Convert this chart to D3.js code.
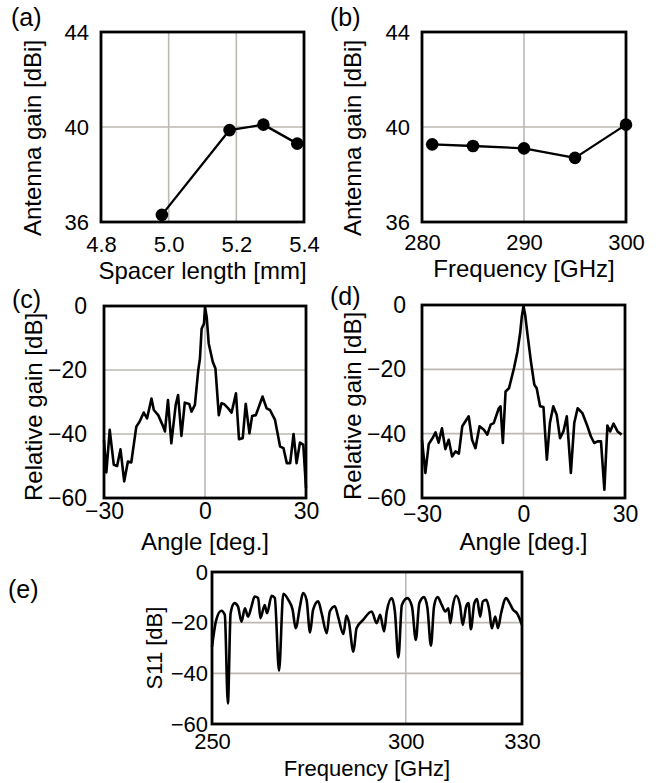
<!DOCTYPE html>
<html>
<head>
<meta charset="utf-8">
<script src="https://cdn.jsdelivr.net/npm/d3@7/dist/d3.min.js"></script>
<style>
    body { margin: 0; background: #fff; }
    text { font-family: "Liberation Sans", Arial, sans-serif; fill: #000; }
</style>
</head>
<body>
<div id="figure"></div>
<script>
// (a) gain vs spacer length
var spacerLength = [4.98, 5.18, 5.28, 5.38];
var spacerGain = [36.3, 39.87, 40.1, 39.3];

// (b) gain vs frequency
var freqB = [281, 285, 290, 295, 300];
var gainB = [39.27, 39.2, 39.1, 38.7, 40.1];

// (c) radiation pattern
var angleC = [-30, -29.3, -28.3, -27.1, -26.1, -25.1, -24, -22.9, -21.9, -20.4, -19.4, -18.2, -17.2, -15.9, -15.2,
    -13.9, -12.4, -11.9, -11, -10, -8.7, -8, -7, -6, -4.7, -4, -3, -2, -1.5, -1, -0.3, 0, 0.5, 1.1, 2.3, 3.1,
    4.1, 4.9, 5.6, 6.9, 7.9, 9.2, 10.1, 11.2, 12.1, 13.2, 14, 15.1, 17.1, 18.3, 19.3, 20.8, 22.3, 23.3, 24.3,
    25.3, 26.3, 27.2, 28.2, 29.2, 30];
var gainC = [-41.8, -52, -38.7, -49.6, -50, -44.8, -54.8, -48.6, -48.9, -37.7, -36.1, -33.3, -35.1, -28.9, -32.5,
    -34.1, -37.7, -39.2, -29.4, -42.9, -30.9, -27.8, -40.6, -30.2, -30.6, -33, -30.9, -20, -16.4, -7.1, -5.5, -0.3, -3.4, -11.7, -17.4, -19.5,
    -34.1, -30.4, -30.6, -32, -33.3, -27.3, -41.6, -41.3, -30.6, -39.8, -34.4, -34.1, -28.3, -32, -32.5, -35.6, -43.9, -44.4, -49.1,
    -49.1, -40, -49.1, -42.7, -43.4, -56.9];

// (d) radiation pattern
var angleD = [-30, -29, -28, -27, -26, -25.1, -24.1, -23.1, -22.1, -21.1, -20.1, -19.1, -18.1, -17.2, -16.2,
    -15.2, -14.2, -13, -11.7, -10.7, -9.7, -8.8, -7.3, -6.8, -6.1, -5.3, -4.3, -2.8, -1.8, -1, -0.5, 0, 0.5,
    1.2, 2.2, 3.2, 3.9, 4.9, 5.9, 6.9, 7.8, 8.8, 9.8, 10.8, 11.8, 12.8, 14, 15, 16, 17.4, 18.9, 19.9, 20.9,
    21.9, 22.9, 23.9, 24.8, 25.6, 26.6, 27.8, 29];
var gainD = [-41.9, -52.2, -43.2, -41.6, -39.6, -42.8, -38.3, -44.8, -41.9, -47.1, -45.5, -46.2, -37.7, -36.2, -34.6,
    -41.9, -44.5, -37.7, -38.8, -40.3, -37.2, -36.7, -32.1, -31.5, -42.9, -26.9, -25.9, -19.6, -14.5, -8.8, -3.6, -0.3, -3.1,
    -9.3, -17.6, -24.8, -25.9, -31.5, -31.7, -48.1, -36.7, -31.5, -34.1, -41.4, -39.3, -34.6, -52.2, -36.7, -32.1, -33.6, -37.7, -40.8, -42.9,
    -42.4, -42.4, -57.4, -37.5, -39.3, -36.9, -39.3, -40.3];

// (e) S11
var freqE = [250, 251.1, 252.4, 253.3, 254.1, 254.8, 255.8, 256.7, 257.6, 258.5, 259.3, 260.2, 261, 261.9, 262.5,
    263.6, 264.2, 265.4, 266.2, 267.3, 268.4, 269.7, 270.8, 271.6, 272.7, 273.5, 274.4, 275.3, 276.1, 277.4,
    278.3, 279.6, 280.4, 281.7, 282.6, 283.9, 284.7, 285.3, 286.5, 287.3, 289, 291.2, 292.5, 293.4, 294.4,
    295.1, 296.4, 297.2, 298.1, 299, 300.4, 301.6, 302.6, 303.5, 304.7, 305.6, 306.5, 307.3, 308.2, 309.3,
    310.2, 311, 311.5, 312.2, 313, 314, 314.7, 315.6, 316.2, 316.8, 317.7, 318.4, 319.2, 319.9, 320.8, 321.6,
    322.2, 323.1, 323.8, 324.6, 325.9, 326.8, 327.7, 328.7, 330];
var s11E = [-29.5, -18.9, -15.3, -16.9, -51.9, -16.3, -12.3, -13.6, -19.6, -14.3, -17.6, -13.6, -9.7, -10.3, -18.2,
    -13, -16.3, -9.4, -10.3, -39, -8.6, -11, -14.9, -22.2, -13.6, -8.3, -11, -23.9, -14.9, -11.6,
    -16.3, -24.2, -15.6, -13.5, -18, -24.5, -17.2, -19.6, -31.5, -22.2, -18.9, -15.6, -20.2, -16.9, -23.5,
    -15.6, -10.3, -15.6, -33.7, -13, -10.3, -13.6, -26.8, -12.3, -9.9, -14.3, -29.1, -13.6, -9.9, -13,
    -15.6, -14.3, -20.2, -13, -9.4, -13, -20.9, -13.6, -12.3, -22.6, -12.3, -10.7, -17.6, -11.6, -11, -15.6,
    -22.2, -17.6, -22.2, -16.3, -10.3, -12.3, -14.9, -16.3, -20.9];

var gridColor = "#bdb8b2";

var svg = d3.select("#figure").append("svg")
    .attr("width", 668)
    .attr("height", 783)
    .style("display", "block");

svg.append("rect").attr("width", 668).attr("height", 783).attr("fill", "#fff");

// minus sign like the original figure
function fmt(d, f) {
    var s = f ? f(Math.abs(d)) : String(Math.abs(d));
    return d < 0 ? "\u2212" + s : s;
}

// Draws one framed panel with grid, ticks, labels and a data line
function drawPanel(p) {
    var x = d3.scaleLinear().domain(p.xDomain).range([p.left, p.right]);
    var y = d3.scaleLinear().domain(p.yDomain).range([p.bottom, p.top]);
    var g = svg.append("g");

    // grid lines
    g.selectAll(".vgrid").data(p.xGrid).enter().append("line")
        .attr("x1", d => x(d)).attr("x2", d => x(d))
        .attr("y1", p.top).attr("y2", p.bottom)
        .attr("stroke", gridColor).attr("stroke-width", 1.6);
    g.selectAll(".hgrid").data(p.yGrid).enter().append("line")
        .attr("x1", p.left).attr("x2", p.right)
        .attr("y1", d => y(d)).attr("y2", d => y(d))
        .attr("stroke", gridColor).attr("stroke-width", 1.6);

    // data line
    var pts = p.xs.map((d, i) => [d, p.ys[i]]);
    var line = d3.line().x(d => x(d[0])).y(d => y(d[1])).curve(p.curve || d3.curveLinear);
    g.append("path")
        .attr("d", line(pts))
        .attr("fill", "none")
        .attr("stroke", "#000")
        .attr("stroke-width", p.lineWidth || 2.5)
        .attr("stroke-linejoin", "round");

    if (p.markers) {
        g.selectAll(".dot").data(pts).enter().append("circle")
            .attr("cx", d => x(d[0])).attr("cy", d => y(d[1]))
            .attr("r", 6.3).attr("fill", "#000");
    }

    // frame
    g.append("rect")
        .attr("x", p.left).attr("y", p.top)
        .attr("width", p.right - p.left).attr("height", p.bottom - p.top)
        .attr("fill", "none").attr("stroke", "#000").attr("stroke-width", 2.8);

    // axes (tick text only)
    var xAxis = d3.axisBottom(x).tickValues(p.xTicks).tickSize(0).tickPadding(p.xPad)
        .tickFormat(d => fmt(d, p.xFormat));
    var yAxis = d3.axisLeft(y).tickValues(p.yTicks).tickSize(0).tickPadding(p.yPad)
        .tickFormat(d => fmt(d));
    var gx = g.append("g").attr("transform", "translate(0," + p.bottom + ")").call(xAxis);
    var gy = g.append("g").attr("transform", "translate(" + p.left + ",0)").call(yAxis);
    [gx, gy].forEach(function (a) {
        a.attr("font-size", p.tickSize).attr("font-family", '"Liberation Sans", Arial, sans-serif');
        a.select(".domain").remove();
        a.selectAll("text").attr("fill", "#000");
    });

    // axis titles
    g.append("text")
        .attr("x", (p.left + p.right) / 2)
        .attr("y", p.xTitleY)
        .attr("text-anchor", "middle")
        .style("font-size", p.titleSize + "px")
        .text(p.xTitle);
    g.append("text")
        .attr("transform", "translate(" + p.yTitleX + "," + p.yTitleC + ") rotate(-90)")
        .attr("text-anchor", "middle")
        .style("font-size", p.titleSize + "px")
        .text(p.yTitle);

    // panel tag
    g.append("text")
        .attr("x", p.tagX).attr("y", p.tagY)
        .style("font-size", "25px")
        .text(p.tag);
}

drawPanel({
    left: 101, right: 304, top: 32, bottom: 222,
    xDomain: [4.8, 5.4], yDomain: [36, 44],
    xTicks: [4.8, 5.0, 5.2, 5.4], yTicks: [36, 40, 44],
    xFormat: d3.format(".1f"),
    xGrid: [5.0, 5.2], yGrid: [40],
    xs: spacerLength, ys: spacerGain, markers: true, lineWidth: 2.3,
    xPad: 14, yPad: 12, tickSize: 22,
    xTitle: "Spacer length [mm]", xTitleY: 279,
    yTitle: "Antenna gain [dBi]", yTitleX: 41, yTitleC: 138,
    titleSize: 24, tag: "(a)", tagX: 11, tagY: 26
});

drawPanel({
    left: 422, right: 626, top: 32, bottom: 222,
    xDomain: [280, 300], yDomain: [36, 44],
    xTicks: [280, 290, 300], yTicks: [36, 40, 44],
    xGrid: [290], yGrid: [40],
    xs: freqB, ys: gainB, markers: true, lineWidth: 2.3,
    xPad: 12, yPad: 12, tickSize: 22,
    xTitle: "Frequency [GHz]", xTitleY: 277,
    yTitle: "Antenna gain [dBi]", yTitleX: 361, yTitleC: 138,
    titleSize: 24, tag: "(b)", tagX: 330, tagY: 26
});

drawPanel({
    left: 104, right: 306, top: 306, bottom: 498,
    xDomain: [-30, 30], yDomain: [-60, 0],
    xTicks: [-30, 0, 30], yTicks: [-60, -40, -20, 0],
    xGrid: [0], yGrid: [-20, -40],
    xs: angleC, ys: gainC, lineWidth: 2.6,
    xPad: 5, yPad: 17, tickSize: 23,
    xTitle: "Angle [deg.]", xTitleY: 550,
    yTitle: "Relative gain [dB]", yTitleX: 42, yTitleC: 407,
    titleSize: 24, tag: "(c)", tagX: 12, tagY: 308
});

drawPanel({
    left: 422, right: 625, top: 305, bottom: 498,
    xDomain: [-30, 30], yDomain: [-60, 0],
    xTicks: [-30, 0, 30], yTicks: [-60, -40, -20, 0],
    xGrid: [0], yGrid: [-20, -40],
    xs: angleD, ys: gainD, lineWidth: 2.6,
    xPad: 8, yPad: 16, tickSize: 23,
    xTitle: "Angle [deg.]", xTitleY: 550,
    yTitle: "Relative gain [dB]", yTitleX: 361, yTitleC: 406,
    titleSize: 24, tag: "(d)", tagX: 330, tagY: 305
});

drawPanel({
    left: 212, right: 522, top: 572, bottom: 724,
    xDomain: [250, 330], yDomain: [-60, 0],
    xTicks: [250, 300, 330], yTicks: [-60, -40, -20, 0],
    xGrid: [300], yGrid: [-20, -40],
    xs: freqE, ys: s11E, lineWidth: 2.6, curve: d3.curveMonotoneX,
    xPad: 9, yPad: 4, tickSize: 22,
    xTitle: "Frequency [GHz]", xTitleY: 776,
    yTitle: "S11 [dB]", yTitleX: 162, yTitleC: 648,
    titleSize: 22, tag: "(e)", tagX: 8, tagY: 598
});
</script>
</body>
</html>
